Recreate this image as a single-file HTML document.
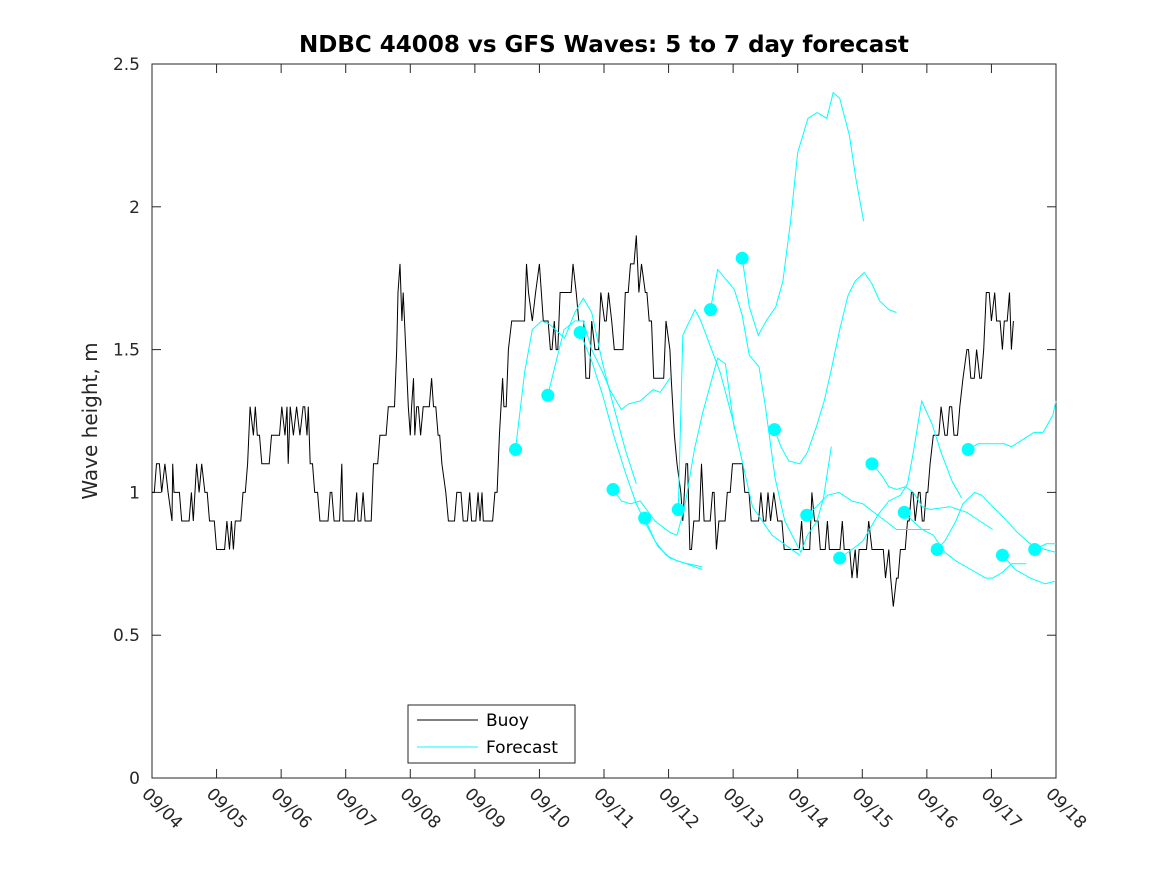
<!DOCTYPE html>
<html><head><meta charset="utf-8"><style>
html,body{margin:0;padding:0;background:#fff;}
svg{display:block;font-family:"DejaVu Sans","Liberation Sans",sans-serif;}
</style></head><body>
<svg id="chart" width="1167" height="875" viewBox="0 0 1167 875">
<rect width="1167" height="875" fill="#fff"/>
<g id="plot"></g>
</svg>
<script>
const xTickLabels=["09/04","09/05","09/06","09/07","09/08","09/09","09/10","09/11","09/12","09/13","09/14","09/15","09/16","09/17","09/18"];
const yTicks=[0,0.5,1,1.5,2,2.5];
const yTickLabels=["0","0.5","1","1.5","2","2.5"];
const buoyT=[0,0.07,0.15,0.20,0.25,0.31,0.32,0.34,0.46,0.61,0.64,0.69,0.73,0.77,0.82,0.89,1.00,1.16,1.20,1.23,1.26,1.29,1.41,1.48,1.52,1.57,1.60,1.63,1.70,1.85,2.01,2.06,2.09,2.11,2.14,2.19,2.24,2.29,2.34,2.40,2.42,2.45,2.52,2.60,2.76,2.82,2.94,2.96,3.17,3.19,3.27,3.30,3.43,3.53,3.66,3.79,3.81,3.84,3.87,3.89,3.93,3.97,4.00,4.02,4.05,4.07,4.10,4.16,4.20,4.33,4.36,4.43,4.49,4.55,4.59,4.72,4.82,4.92,4.95,5.05,5.08,5.11,5.13,5.31,5.38,5.43,5.45,5.52,5.57,5.77,5.80,5.83,5.89,5.94,6.00,6.06,6.17,6.23,6.26,6.32,6.49,6.52,6.57,6.61,6.72,6.81,6.86,6.95,7.01,7.07,7.12,7.16,7.33,7.41,7.50,7.54,7.58,7.64,7.70,7.77,7.96,8.02,8.04,8.09,8.13,8.19,8.22,8.27,8.33,8.39,8.51,8.55,8.68,8.74,8.78,8.91,8.99,9.18,9.28,9.43,9.47,9.54,9.58,9.63,9.69,9.79,10.06,10.09,10.22,10.26,10.35,10.46,10.49,10.69,10.72,10.84,10.89,10.92,10.95,11.10,11.15,11.36,11.41,11.44,11.48,11.53,11.59,11.70,11.76,11.82,11.87,11.93,11.99,12.05,12.10,12.22,12.28,12.35,12.42,12.51,12.56,12.62,12.68,12.77,12.82,12.88,12.92,13.00,13.05,13.08,13.17,13.20,13.28,13.31,13.34];
const buoyH=[1.0,1.1,1.0,1.1,1.0,0.9,1.1,1.0,0.9,1.0,0.9,1.1,1.0,1.1,1.0,0.9,0.8,0.9,0.8,0.9,0.8,0.9,1.0,1.1,1.3,1.2,1.3,1.2,1.1,1.2,1.3,1.2,1.3,1.1,1.3,1.2,1.3,1.2,1.3,1.2,1.3,1.1,1.0,0.9,1.0,0.9,1.1,0.9,1.0,0.9,1.0,0.9,1.1,1.2,1.3,1.5,1.7,1.8,1.6,1.7,1.5,1.3,1.2,1.3,1.4,1.2,1.3,1.2,1.3,1.4,1.3,1.2,1.1,1.0,0.9,1.0,0.9,1.0,0.9,1.0,0.9,1.0,0.9,1.0,1.2,1.4,1.3,1.5,1.6,1.6,1.8,1.7,1.6,1.7,1.8,1.6,1.5,1.6,1.5,1.7,1.7,1.8,1.7,1.6,1.4,1.6,1.5,1.7,1.6,1.7,1.6,1.5,1.7,1.8,1.9,1.7,1.8,1.7,1.6,1.4,1.6,1.5,1.4,1.2,1.1,1.0,0.9,1.1,0.8,0.9,1.1,0.9,1.0,0.8,0.9,1.0,1.1,1.0,0.9,1.0,0.9,1.0,0.9,1.0,0.9,0.8,0.9,0.8,1.0,0.9,0.8,0.9,0.8,0.9,0.8,0.7,0.8,0.7,0.8,0.9,0.8,0.7,0.8,0.7,0.6,0.7,0.8,0.9,1.0,0.9,1.0,0.9,1.0,1.1,1.2,1.3,1.2,1.3,1.2,1.3,1.4,1.5,1.4,1.5,1.4,1.5,1.7,1.6,1.7,1.6,1.5,1.6,1.7,1.5,1.6];
const fc1=[[5.63,1.15],[5.77,1.42],[5.89,1.57],[6.03,1.60],[6.15,1.59],[6.39,1.54],[6.55,1.63],[6.68,1.68],[6.81,1.63],[6.98,1.45],[7.15,1.30],[7.33,1.15],[7.50,1.03]];
const fc2=[[6.13,1.34],[6.38,1.57],[6.55,1.60],[6.68,1.60],[6.81,1.50],[6.98,1.42],[7.09,1.36],[7.27,1.29],[7.38,1.31],[7.56,1.32],[7.76,1.36],[7.87,1.35],[8.02,1.40]];
const fc3=[[6.63,1.56],[6.81,1.46],[6.98,1.34],[7.15,1.20],[7.33,1.07],[7.50,0.96],[7.67,0.88],[7.84,0.81],[8.02,0.77],[8.28,0.75],[8.52,0.73]];
const fc4=[[7.14,1.01],[7.27,0.97],[7.41,0.96],[7.56,0.97],[7.79,0.90],[8.02,0.86],[8.13,0.85],[8.25,0.95],[8.4,1.15],[8.53,1.28],[8.76,1.47],[8.88,1.45],[9.02,1.22]];
const fc5=[[7.63,0.91],[7.79,0.83],[7.96,0.78],[8.13,0.76],[8.3,0.75],[8.52,0.74]];
const fc6=[[8.15,0.94],[8.22,1.55],[8.41,1.64],[8.5,1.60],[8.65,1.51],[8.8,1.42],[9.0,1.25],[9.3,0.95],[9.6,0.85],[10.03,0.78]];
const fc7=[[8.65,1.64],[8.76,1.78],[8.91,1.74],[9.02,1.71],[9.14,1.62],[9.25,1.48],[9.4,1.44],[9.5,1.30],[9.65,1.05],[9.8,0.90],[10.05,0.79],[10.15,0.85],[10.3,0.90],[10.4,0.98],[10.52,1.16]];
const fc8=[[9.14,1.82],[9.25,1.65],[9.39,1.55],[9.51,1.60],[9.66,1.65],[9.77,1.74],[9.89,1.95],[10.0,2.19],[10.16,2.31],[10.3,2.33],[10.45,2.31],[10.55,2.40],[10.65,2.38],[10.8,2.25],[10.9,2.10],[11.02,1.95]];
const fc9=[[9.64,1.22],[9.74,1.16],[9.86,1.11],[10.03,1.10],[10.15,1.14],[10.29,1.23],[10.41,1.32],[10.52,1.43],[10.65,1.57],[10.78,1.69],[10.89,1.74],[11.03,1.77],[11.15,1.73],[11.27,1.67],[11.41,1.64],[11.53,1.63]];
const fc10=[[10.14,0.92],[10.29,0.95],[10.46,0.99],[10.64,1.00],[10.84,0.97],[11.01,0.96],[11.18,0.93],[11.36,0.90],[11.53,0.87],[11.7,0.87],[12.05,0.87]];
const fc11=[[10.65,0.77],[10.84,0.80],[11.01,0.83],[11.24,0.92],[11.41,0.97],[11.59,0.99],[11.70,1.03],[11.79,1.14],[11.92,1.32],[12.08,1.24],[12.22,1.14],[12.39,1.04],[12.54,0.98]];
const fc12=[[11.15,1.10],[11.30,1.06],[11.41,1.02],[11.53,1.01],[11.67,1.02],[11.79,1.00],[11.93,0.95],[12.05,0.94],[12.36,0.95],[12.62,0.93],[12.82,0.90],[13.02,0.87]];
const fc13=[[11.65,0.93],[11.78,0.90],[11.93,0.87],[12.1,0.85],[12.28,0.79],[12.45,0.76],[12.68,0.73],[12.91,0.70],[13.02,0.70],[13.17,0.72],[13.31,0.75],[13.54,0.75]];
const fc14=[[12.16,0.80],[12.28,0.83],[12.45,0.90],[12.56,0.96],[12.74,1.00],[12.85,0.99],[13.02,0.95],[13.20,0.91],[13.40,0.86],[13.60,0.82],[13.83,0.80],[14.0,0.79]];
const fc15=[[12.64,1.15],[12.79,1.17],[13.20,1.17],[13.31,1.16],[13.66,1.21],[13.80,1.21],[13.95,1.27],[14.0,1.32]];
const fc16=[[13.17,0.78],[13.37,0.73],[13.60,0.70],[13.83,0.68],[14.0,0.69]];
const fc17=[[13.67,0.80],[13.85,0.82],[14.0,0.82]];
const forecasts=[fc1,fc2,fc3,fc4,fc5,fc6,fc7,fc8,fc9,fc10,fc11,fc12,fc13,fc14,fc15,fc16,fc17];

const L=152,R=1056,T=64,B=778,XMAX=14,YMAX=2.5;
const sx=d=>L+(R-L)*d/XMAX;
const sy=v=>B-(B-T)*v/YMAX;
const NS="http://www.w3.org/2000/svg";
const plot=document.getElementById('plot');
function mk(tag,attrs,parent){const e=document.createElementNS(NS,tag);for(const k in attrs)e.setAttribute(k,attrs[k]);(parent||plot).appendChild(e);return e;}

const box=mk('rect',{x:L,y:T,width:R-L,height:B-T,fill:'none',stroke:'#262626','stroke-width':1});



yTicks.forEach((v,i)=>{
  const y=sy(v);
  const t1=mk('line',{x1:L,y1:y,x2:L+9,y2:y,stroke:'#262626'});
  
  
  const t2=mk('line',{x1:R,y1:y,x2:R-9,y2:y,stroke:'#262626'});
  
  
  const tx=mk('text',{x:L-12,y:y+6,'text-anchor':'end','font-size':17,fill:'#262626'});
  tx.textContent=yTickLabels[i];
  
  
});
xTickLabels.forEach((lab,i)=>{
  const x=sx(i);
  const t1=mk('line',{x1:x,y1:B,x2:x,y2:B-9,stroke:'#262626'});
  
  
  const t2=mk('line',{x1:x,y1:T,x2:x,y2:T+9,stroke:'#262626'});
  
  
  const tx=mk('text',{x:x-11,y:B+17,'font-size':17,fill:'#262626',transform:`rotate(45 ${x-11} ${B+17})`});
  tx.textContent=lab;
  
  
});

const pts=[];
for(let i=0;i<buoyT.length;i++){
  pts.push([buoyT[i],buoyH[i]]);
  if(i<buoyT.length-1){
    const gap=buoyT[i+1]-buoyT[i];
    if(gap>0.06) pts.push([buoyT[i+1]-0.035,buoyH[i]]);
  }
}
const bp=pts.map(q=>sx(q[0]).toFixed(1)+','+sy(q[1]).toFixed(1)).join(' ');
const bl=mk('polyline',{points:bp,fill:'none',stroke:'#000','stroke-width':1});



forecasts.forEach(f=>{
  const p=f.map(q=>sx(q[0]).toFixed(1)+','+sy(q[1]).toFixed(1)).join(' ');
  const pl=mk('polyline',{points:p,fill:'none',stroke:'#00ffff','stroke-width':1});
  
  
  const c=mk('circle',{cx:sx(f[0][0]),cy:sy(f[0][1]),r:6.5,fill:'#00ffff'});
  
  
});

const ti=mk('text',{x:604,y:52,'text-anchor':'middle','font-size':23,'font-weight':'bold',fill:'#000'});
ti.textContent='NDBC 44008 vs GFS Waves: 5 to 7 day forecast';


const yl=mk('text',{x:97,y:421,'text-anchor':'middle','font-size':20,fill:'#262626',transform:'rotate(-90 97 421)'});
yl.textContent='Wave height, m';



const lg=mk('g',{});


mk('rect',{x:408,y:705,width:167,height:58,fill:'#fff',stroke:'#262626'},lg);
const l1=mk('line',{x1:417,y1:720,x2:478,y2:720,stroke:'#000'},lg);


const lt1=mk('text',{x:486,y:726,'font-size':17,fill:'#000'},lg);
lt1.textContent='Buoy';


const l2=mk('line',{x1:417,y1:747,x2:478,y2:747,stroke:'#00ffff'},lg);


const lt2=mk('text',{x:486,y:753,'font-size':17,fill:'#000'},lg);
lt2.textContent='Forecast';


</script>
</body></html>
